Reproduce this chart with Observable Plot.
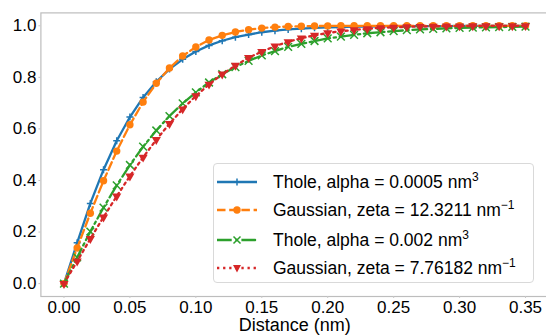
<!DOCTYPE html>
<html>
<head>
<meta charset="utf-8">
<script src="https://cdn.jsdelivr.net/npm/d3@7"></script>
<script src="https://cdn.jsdelivr.net/npm/@observablehq/plot@0.6"></script>
<style>
  html, body { margin: 0; padding: 0; background: #fff; overflow: hidden; }
  #wrap { position: relative; width: 546px; height: 335px; overflow: hidden; font-family: "Liberation Sans", Arial, sans-serif; }
  #legend { position: absolute; left: 213px; top: 163px; width: 321px; height: 120px; box-sizing: border-box;
    border: 1px solid #d9d9d9; border-radius: 4px; background: rgba(255,255,255,0.85); }
  .row { position: absolute; left: 0; height: 28px; display: flex; align-items: center; font-size: 17.5px; color: #000; white-space: nowrap; }
  .row svg { margin-left: 3px; margin-right: 15px; }
  sup { font-size: 12px; vertical-align: 0; position: relative; top: -7px; }
</style>
</head>
<body>
<div id="wrap"><div id="chart"></div><div id="legend"></div></div>
<script>
const distance = [0.00,0.01,0.02,0.03,0.04,0.05,0.06,0.07,0.08,0.09,0.10,0.11,0.12,0.13,0.14,0.15,0.16,0.17,0.18,0.19,0.20,0.21,0.22,0.23,0.24,0.25,0.26,0.27,0.28,0.29,0.30,0.31,0.32,0.33,0.34,0.35];
const tholeSmall = [0,0.158,0.311,0.442,0.554,0.646,0.722,0.783,0.832,0.870,0.900,0.924,0.942,0.956,0.966,0.975,0.981,0.986,0.989,0.992,0.994,0.995,0.997,0.997,0.998,0.999,0.999,0.999,0.999,0.999,1.0,1.0,1.0,1.0,1.0,1.0];
const gaussSmall = [0,0.138,0.273,0.399,0.514,0.616,0.704,0.777,0.836,0.883,0.918,0.945,0.963,0.976,0.985,0.991,0.995,0.997,0.998,0.999,0.9995,1.0,1.0,1.0,1.0,1.0,1.0,1.0,1.0,1.0,1.0,1.0,1.0,1.0,1.0,1.0];
const tholeLarge = [0,0.102,0.202,0.295,0.381,0.460,0.531,0.594,0.650,0.699,0.742,0.780,0.812,0.840,0.864,0.885,0.902,0.918,0.930,0.941,0.951,0.958,0.965,0.971,0.975,0.979,0.983,0.986,0.988,0.990,0.992,0.993,0.994,0.995,0.996,0.997];
const gaussLarge = [0,0.087,0.174,0.258,0.339,0.417,0.490,0.558,0.620,0.677,0.728,0.773,0.812,0.846,0.876,0.900,0.921,0.938,0.952,0.963,0.972,0.979,0.984,0.988,0.992,0.994,0.996,0.997,0.998,0.9986,0.999,0.9993,0.9996,0.9997,0.9998,0.9999];
const seriesNames = ["Thole, alpha = 0.0005 nm", "Gaussian, zeta = 12.3211 nm", "Thole, alpha = 0.002 nm", "Gaussian, zeta = 7.76182 nm"];
const seriesSup = ["3", "\u22121", "3", "\u22121"];
const xTicks = [0.00,0.05,0.10,0.15,0.20,0.25,0.30,0.35];
const yTicks = [0.0,0.2,0.4,0.6,0.8,1.0];
const xLabel = "Distance (nm)";

const colors = ["#1f77b4", "#ff7f0e", "#2ca02c", "#d62728"];
const dashes = [null, "8.5,3.7", "14.7,3.7,2.3,3.7", "2.3,3.8"];
const allValues = [tholeSmall, gaussSmall, tholeLarge, gaussLarge];
const tables = allValues.map(vals => distance.map((d, i) => ({x: d, y: vals[i]})));

const lw = 2.3;
const marks = [
  Plot.frame({stroke: "#bdbdbd", strokeWidth: 1.2}),
  Plot.axisX({ticks: xTicks, tickFormat: d3.format(".2f"), tickSize: 2, tickPadding: 2.5, stroke: "#c8c8c8", fill: "#000", fontSize: 17, label: null}),
  Plot.axisY({ticks: yTicks, tickFormat: d3.format(".1f"), tickSize: 2, tickPadding: 2.5, stroke: "#c8c8c8", fill: "#000", fontSize: 17, label: null}),
  Plot.text([xLabel], {frameAnchor: "bottom", dy: 29, lineAnchor: "middle", fontSize: 18, fill: "#000", text: d => d})
];
// series 0: blue +
marks.push(Plot.line(tables[0], {x: "x", y: "y", stroke: colors[0], strokeWidth: lw}));
marks.push(Plot.dot(tables[0], {x: "x", y: "y", symbol: "plus", r: 2.4, stroke: colors[0], strokeWidth: 1.5}));
// series 1: orange circles
marks.push(Plot.line(tables[1], {x: "x", y: "y", stroke: colors[1], strokeWidth: lw, strokeDasharray: dashes[1]}));
marks.push(Plot.dot(tables[1], {x: "x", y: "y", symbol: "circle", r: 3.7, fill: colors[1], stroke: "none"}));
// series 2: green x
marks.push(Plot.line(tables[2], {x: "x", y: "y", stroke: colors[2], strokeWidth: lw, strokeDasharray: dashes[2]}));
marks.push(Plot.dot(tables[2], {x: "x", y: "y", symbol: "times", r: 3.6, stroke: colors[2], strokeWidth: 1.5}));
// series 3: red down triangles
marks.push(Plot.line(tables[3], {x: "x", y: "y", stroke: colors[3], strokeWidth: lw, strokeDasharray: dashes[3]}));
marks.push(Plot.dot(tables[3], {x: "x", y: "y", symbol: "triangle", rotate: 180, r: 3.4, fill: colors[3], stroke: "none"}));

const chart = Plot.plot({
  width: 546, height: 335,
  marginLeft: 40.4, marginRight: -2.1, marginTop: 12.4, marginBottom: 39,
  style: {fontFamily: "'Liberation Sans', Arial, sans-serif", fontSize: "17px", background: "white"},
  x: {domain: [-0.0175, 0.3675]},
  y: {domain: [-0.05, 1.05]},
  marks
});
document.getElementById("chart").appendChild(chart);

// legend
const legend = document.getElementById("legend");
const rowTops = [4, 32, 62, 90];
const symbolSvg = [
  (c) => `<path d="M20,-3.5V3.5M16.5,0H23.5" stroke="${c}" stroke-width="1.5"/>`,
  (c) => `<circle cx="20" cy="0" r="3.7" fill="${c}"/>`,
  (c) => `<path d="M16.5,-3.5L23.5,3.5M16.5,3.5L23.5,-3.5" stroke="${c}" stroke-width="1.5"/>`,
  (c) => `<path d="M16,-3L24,-3L20,4.5Z" fill="${c}"/>`
];
seriesNames.forEach((name, i) => {
  const row = document.createElement("div");
  row.className = "row";
  row.style.top = rowTops[i] + "px";
  const dash = dashes[i] ? `stroke-dasharray="${dashes[i]}"` : "";
  row.innerHTML = `<svg width="41" height="14" viewBox="0 -7 41 14" style="overflow:visible">
      <line x1="0" y1="0" x2="40" y2="0" stroke="${colors[i]}" stroke-width="${lw}" ${dash}/>
      ${symbolSvg[i](colors[i])}</svg>
    <span>${name}<sup>${seriesSup[i]}</sup></span>`;
  legend.appendChild(row);
});
</script>
</body>
</html>
